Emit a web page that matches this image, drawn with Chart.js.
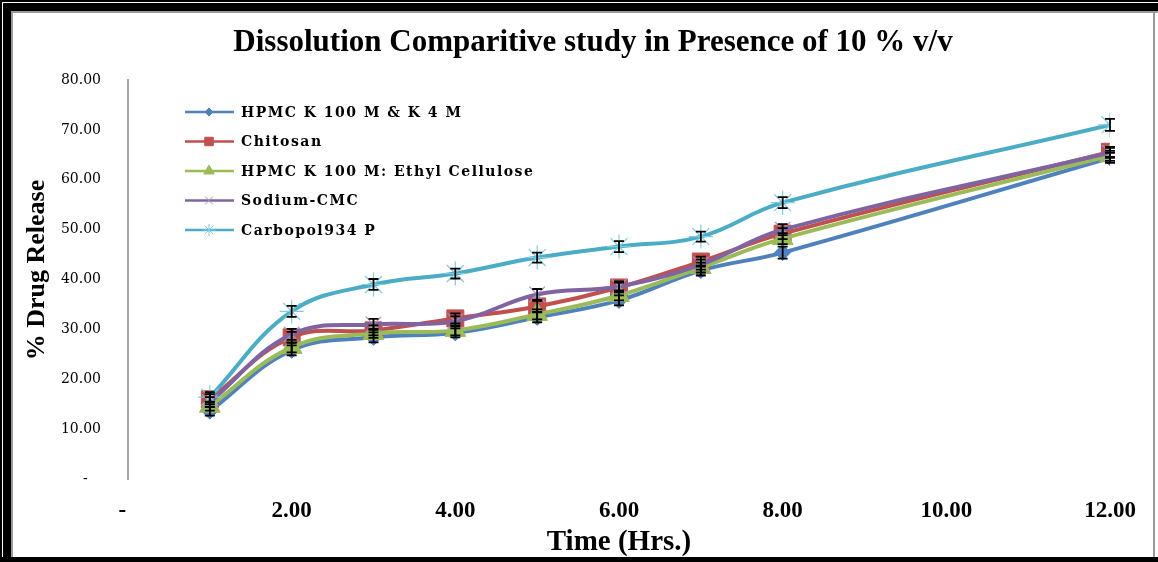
<!DOCTYPE html>
<html>
<head>
<meta charset="utf-8">
<title>Dissolution Comparitive study</title>
<script src="https://cdn.jsdelivr.net/npm/chart.js@4.4.1/dist/chart.umd.min.js"></script>
<style>
  html, body { margin: 0; padding: 0; background: #fff; }
  #wrap { position: relative; width: 1158px; height: 562px; }
</style>
</head>
<body>
<div id="wrap"><canvas id="lineChart" width="1158" height="562"></canvas></div>
<script>
// time points (hrs)
const hours = [1, 2, 3, 4, 5, 6, 7, 8, 12];

// % drug release per formulation
const hpmcK100K4 = [13.6, 25.8, 28.4, 29.3, 32.4, 35.8, 41.8, 45.4, 64.4];
const chitosan = [16.0, 28.4, 29.8, 32.2, 34.6, 38.4, 43.6, 49.2, 65.6];
const hpmcEthyl = [14.6, 26.4, 29.2, 29.8, 33.0, 36.8, 42.4, 48.2, 64.8];
const sodiumCmc = [15.4, 29.0, 31.0, 31.6, 37.0, 38.6, 43.0, 50.0, 65.4];
const carbopol = [16.4, 33.6, 39.0, 41.2, 44.4, 46.6, 48.6, 55.4, 71.0];

// +/- error (SD)
const errHpmcK100K4 = [0.9, 1.0, 1.0, 0.9, 1.0, 1.0, 1.0, 1.2, 1.0];
const errChitosan = [1.0, 1.1, 1.0, 1.0, 1.1, 1.0, 1.0, 1.1, 1.0];
const errHpmcEthyl = [0.9, 1.0, 0.9, 1.0, 1.0, 1.0, 1.0, 1.1, 1.0];
const errSodiumCmc = [1.0, 1.1, 1.1, 1.0, 1.1, 1.0, 1.0, 1.1, 1.0];
const errCarbopol = [1.0, 1.1, 1.1, 1.0, 1.0, 1.1, 1.0, 1.1, 1.2];

const seriesNames = ['HPMC K 100 M & K 4 M', 'Chitosan', 'HPMC K 100 M: Ethyl Cellulose', 'Sodium-CMC', 'Carbopol934 P'];

// y ticks: 0 .. 80 step 10, x ticks: 0 .. 12 step 2
const yTicks = [0, 10, 20, 30, 40, 50, 60, 70, 80];
const xTicks = [0, 2, 4, 6, 8, 10, 12];

const toPoints = (vals) => vals.map((v, i) => ({ x: hours[i], y: v }));

function makeSet(label, vals, errs, color, style, radius, order, pointBorder) {
  return {
    label: label,
    data: toPoints(vals),
    errors: errs,
    borderColor: color,
    backgroundColor: color,
    borderWidth: 4,
    tension: 0.4,
    pointStyle: style,
    pointRadius: radius,
    pointBorderColor: pointBorder || color,
    pointBackgroundColor: color,
    pointBorderWidth: pointBorder ? 1.2 : 1,
    order: order
  };
}

// frame round the picture
const framePlugin = {
  id: 'frame',
  beforeDraw(chart) {
    const ctx = chart.ctx;
    const w = chart.width, h = chart.height;
    ctx.save();
    ctx.fillStyle = '#000';
    ctx.fillRect(0, 0, w, 2);
    ctx.fillRect(0, 0, 2, h);
    ctx.fillRect(3, 3, w - 3, 8);
    ctx.fillRect(3, 3, 8, h - 3);
    ctx.fillRect(0, h - 5, w, 5);
    ctx.fillStyle = '#9a9a9a';
    ctx.fillRect(11, 11, w - 11, 2);
    ctx.fillRect(11, 11, 2, h - 16);
    ctx.fillRect(w - 5, 11, 2, h - 16);
    ctx.restore();
  }
};

// error bars and titles
const extrasPlugin = {
  id: 'extras',
  afterDatasetsDraw(chart) {
    const ctx = chart.ctx;
    const ys = chart.scales.y;
    ctx.save();
    ctx.strokeStyle = '#000';
    ctx.lineWidth = 1.8;
    chart.data.datasets.forEach((ds, di) => {
      const meta = chart.getDatasetMeta(di);
      meta.data.forEach((pt, i) => {
        const v = ds.data[i].y, e = ds.errors[i];
        const top = ys.getPixelForValue(v + e);
        const bot = ys.getPixelForValue(v - e);
        ctx.beginPath();
        ctx.moveTo(pt.x, top); ctx.lineTo(pt.x, bot);
        ctx.moveTo(pt.x - 5, top); ctx.lineTo(pt.x + 5, top);
        ctx.moveTo(pt.x - 5, bot); ctx.lineTo(pt.x + 5, bot);
        ctx.stroke();
      });
    });
    ctx.restore();
  },
  afterDraw(chart) {
    const ctx = chart.ctx;
    ctx.save();
    ctx.fillStyle = '#000';
    ctx.textAlign = 'center';
    ctx.textBaseline = 'middle';
    ctx.font = 'bold 31px "Liberation Serif"';
    ctx.fillText('Dissolution Comparitive study in Presence of 10 % v/v', 593, 43);

    ctx.translate(37, 270);
    ctx.rotate(-Math.PI / 2);
    ctx.font = 'bold 26px "Liberation Serif"';
    ctx.fillText('% Drug Release', 0, 0);
    ctx.restore();

    // legend inside the plot
    ctx.save();
    const helpers = Chart.helpers;
    chart.data.datasets.forEach((ds, i) => {
      const y = 112 + i * 29.5;
      ctx.strokeStyle = ds.borderColor;
      ctx.lineWidth = 2.5;
      ctx.beginPath();
      ctx.moveTo(185, y); ctx.lineTo(234, y);
      ctx.stroke();
      ctx.fillStyle = ds.backgroundColor;
      ctx.strokeStyle = ds.pointBorderColor;
      ctx.lineWidth = 1;
      helpers.drawPoint(ctx, { pointStyle: ds.pointStyle, radius: ds.pointRadius * 0.5, rotation: 0, borderWidth: 1 }, 209, y);
      ctx.fillStyle = '#000';
      ctx.font = 'bold 14px "DejaVu Serif"';
      if ('letterSpacing' in ctx) ctx.letterSpacing = '1.5px';
      ctx.textAlign = 'left';
      ctx.textBaseline = 'middle';
      ctx.fillText(seriesNames[i], 241, y + 1);
      if ('letterSpacing' in ctx) ctx.letterSpacing = '0px';
    });
    ctx.restore();
  }
};

const ctx = document.getElementById('lineChart').getContext('2d');
const lineChart = new Chart(ctx, {
  type: 'line',
  data: {
    datasets: [
      makeSet(seriesNames[0], hpmcK100K4, errHpmcK100K4, '#4F81BD', 'rectRot', 8, 4),
      makeSet(seriesNames[1], chitosan, errChitosan, '#C0504D', 'rect', 12, 3),
      makeSet(seriesNames[2], hpmcEthyl, errHpmcEthyl, '#9BBB59', 'triangle', 12, 2),
      makeSet(seriesNames[3], sodiumCmc, errSodiumCmc, '#8064A2', 'crossRot', 11, 1, '#A592C4'),
      makeSet(seriesNames[4], carbopol, errCarbopol, '#4BACC6', 'star', 12, 0, '#7FCBE0')
    ]
  },
  options: {
    responsive: false,
    animation: false,
    devicePixelRatio: 1,
    layout: { padding: { top: 80, right: 48, bottom: 0, left: 0 } },
    plugins: {
      legend: { display: false },
      title: { display: false },
      tooltip: { enabled: false }
    },
    scales: {
      x: {
        type: 'linear',
        min: 0,
        max: 12,
        afterBuildTicks: (scale) => { scale.ticks = xTicks.map(v => ({ value: v })); },
        afterFit: (scale) => { scale.height = 83; },
        grid: { display: false, drawTicks: false },
        border: { display: false },
        ticks: {
          padding: 18,
          color: '#000',
          font: { family: 'Liberation Serif', size: 23, weight: 'bold' },
          callback: (v) => v === 0 ? '-  ' : Number(v).toFixed(2)
        },
        title: {
          display: true,
          text: 'Time (Hrs.)',
          color: '#000',
          font: { family: 'Liberation Serif', size: 29, weight: 'bold' },
          padding: { top: 0, bottom: 2 }
        }
      },
      y: {
        min: 0,
        max: 80,
        afterBuildTicks: (scale) => { scale.ticks = yTicks.map(v => ({ value: v })); },
        afterFit: (scale) => { scale.width = 128; },
        grid: { display: false, drawTicks: false },
        border: { display: true, color: '#a6a6a6', width: 2 },
        ticks: {
          padding: 27,
          color: '#000',
          font: { family: 'DejaVu Serif', size: 14 },
          callback: (v) => v === 0 ? '-   ' : Number(v).toFixed(2)
        }
      }
    }
  },
  plugins: [framePlugin, extrasPlugin]
});
</script>
</body>
</html>
